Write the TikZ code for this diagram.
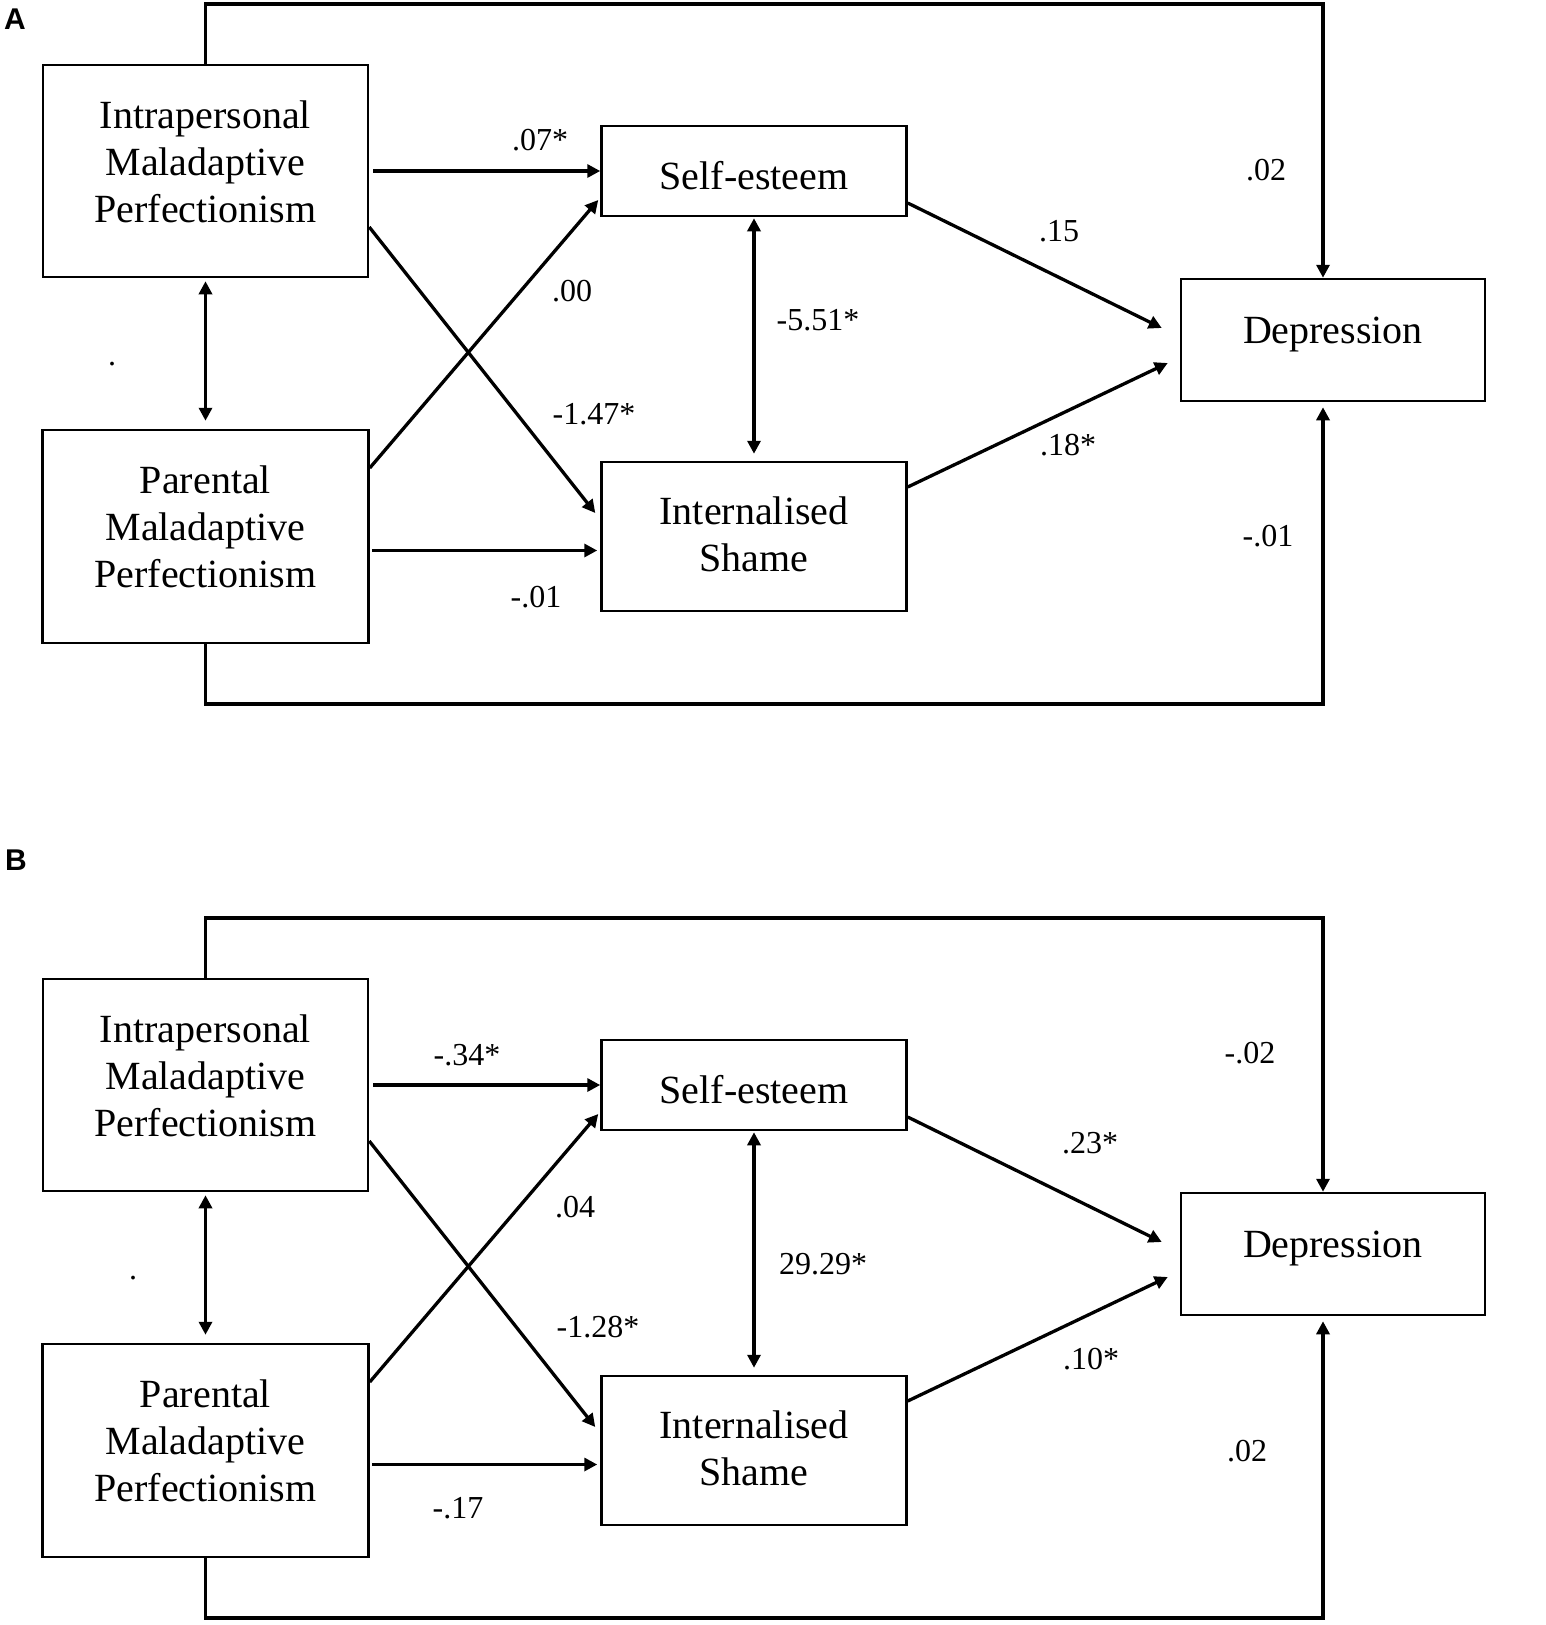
\documentclass[tikz,border=0pt]{standalone}
\usepackage{fontspec}
\setmainfont{Liberation Serif}
\newfontfamily\panelfont{Liberation Sans}
\usetikzlibrary{arrows.meta}
\tikzset{
  box/.style={draw, line width=2.5pt, inner sep=0pt, align=center, font=\fontsize{40}{47}\selectfont},
  conn/.style={line width=3.3pt, -{Triangle[length=13pt,width=13pt]}},
  conntwo/.style={line width=3.3pt, {Triangle[length=13pt,width=13pt]}-{Triangle[length=13pt,width=13pt]}},
  coef/.style={font=\fontsize{32}{38}\selectfont, inner sep=0pt},
  tag/.style={font=\panelfont\bfseries\fontsize{30}{36}\selectfont, inner sep=0pt}
}
\begin{document}
\begin{tikzpicture}[x=1pt,y=-1pt]
\useasboundingbox (0,0) rectangle (1545,1625);
\fill[white] (0,0) rectangle (1545,1625);

\node[tag] (tagA) at (15,19) {A};
\node[tag] (tagB) at (16,860) {B};

% ---------------- Panel A ----------------
\node[box, minimum width=325pt, minimum height=212pt, text depth=19pt] (Ia) at (205.5,171) {Intrapersonal\\Maladaptive\\Perfectionism};
\node[box, minimum width=326pt, minimum height=213pt, text depth=19pt] (Pa) at (205.5,536.5) {Parental\\Maladaptive\\Perfectionism};
\node[box, minimum width=305pt, minimum height=90pt, text height=36pt, text depth=0pt] (Sa) at (754,171) {Self-esteem};
\node[box, minimum width=305pt, minimum height=149pt, text depth=5pt] (Ha) at (754,536.5) {Internalised\\Shame};
\node[box, minimum width=304pt, minimum height=122pt, text depth=20pt] (Da) at (1333,340) {Depression};

\draw[conn, shorten <=4pt] (Ia.east) -- (Sa.west);
\draw[conn, shorten <=2pt, shorten >=3pt] ([yshift=-14pt]Pa.east) -- ([yshift=-14pt]Ha.west);
\draw[conn] ([yshift=-56pt]Ia.east) -- ([xshift=-5pt,yshift=23.5pt]Ha.west);
\draw[conn] ([yshift=68.5pt]Pa.east) -- ([xshift=-2pt,yshift=-29pt]Sa.west);
\draw[conntwo, shorten <=1pt, shorten >=7pt] (Sa.south) -- (Ha.north);
\draw[conntwo, shorten <=3pt, shorten >=8pt] (Ia.south) -- (Pa.north);
\draw[conn] ([yshift=-32pt]Sa.east) -- ([xshift=-18pt,yshift=12pt]Da.west);
\draw[conn] ([yshift=49.5pt]Ha.east) -- ([xshift=-12pt,yshift=-23pt]Da.west);
\coordinate (ta) at (1323,4);
\coordinate (ba) at (1323,704);
\draw[conn] (Ia.north) |- (ta) -- (ta |- Da.north);
\draw[conn, shorten >=5pt] (Pa.south) |- (ba) -- (ba |- Da.south);

\node[coef] (a1) at (540,140) {.07*};
\node[coef] (a2) at (572,291) {.00};
\node[coef] (a3) at (818,320) {-5.51*};
\node[coef] (a4) at (594,414) {-1.47*};
\node[coef] (a5) at (536,597) {-.01};
\node[coef] (a6) at (1059,231) {.15};
\node[coef] (a7) at (1266,170) {.02};
\node[coef] (a8) at (1068,445) {.18*};
\node[coef] (a9) at (1268,536) {-.01};
\node[coef] (a10) at (112,364) {.};

% ---------------- Panel B ----------------
\begin{scope}[yshift=-914pt]
\node[box, minimum width=325pt, minimum height=212pt, text depth=19pt] (Ib) at (205.5,171) {Intrapersonal\\Maladaptive\\Perfectionism};
\node[box, minimum width=326pt, minimum height=213pt, text depth=19pt] (Pb) at (205.5,536.5) {Parental\\Maladaptive\\Perfectionism};
\node[box, minimum width=305pt, minimum height=90pt, text height=36pt, text depth=0pt] (Sb) at (754,171) {Self-esteem};
\node[box, minimum width=305pt, minimum height=149pt, text depth=5pt] (Hb) at (754,536.5) {Internalised\\Shame};
\node[box, minimum width=304pt, minimum height=122pt, text depth=20pt] (Db) at (1333,340) {Depression};

\draw[conn, shorten <=4pt] (Ib.east) -- (Sb.west);
\draw[conn, shorten <=2pt, shorten >=3pt] ([yshift=-14pt]Pb.east) -- ([yshift=-14pt]Hb.west);
\draw[conn] ([yshift=-56pt]Ib.east) -- ([xshift=-5pt,yshift=23.5pt]Hb.west);
\draw[conn] ([yshift=68.5pt]Pb.east) -- ([xshift=-2pt,yshift=-29pt]Sb.west);
\draw[conntwo, shorten <=1pt, shorten >=7pt] (Sb.south) -- (Hb.north);
\draw[conntwo, shorten <=3pt, shorten >=8pt] (Ib.south) -- (Pb.north);
\draw[conn] ([yshift=-32pt]Sb.east) -- ([xshift=-18pt,yshift=12pt]Db.west);
\draw[conn] ([yshift=49.5pt]Hb.east) -- ([xshift=-12pt,yshift=-23pt]Db.west);
\coordinate (tb) at (1323,4);
\coordinate (bb) at (1323,704);
\draw[conn] (Ib.north) |- (tb) -- (tb |- Db.north);
\draw[conn, shorten >=5pt] (Pb.south) |- (bb) -- (bb |- Db.south);

\node[coef] (b1) at (467,141) {-.34*};
\node[coef] (b2) at (575,293) {.04};
\node[coef] (b3) at (823,350) {29.29*};
\node[coef] (b4) at (598,413) {-1.28*};
\node[coef] (b5) at (458,594) {-.17};
\node[coef] (b6) at (1090,229) {.23*};
\node[coef] (b7) at (1250,139) {-.02};
\node[coef] (b8) at (1091,445) {.10*};
\node[coef] (b9) at (1247,537) {.02};
\node[coef] (b10) at (133,364) {.};
\end{scope}
\end{tikzpicture}
\end{document}
